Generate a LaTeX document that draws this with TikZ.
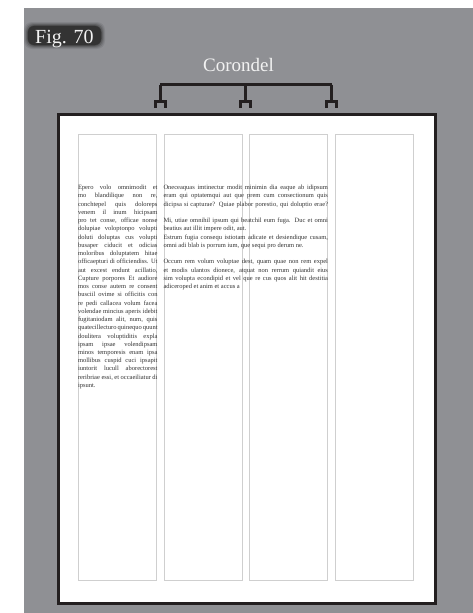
\documentclass[tikz,border=0pt]{standalone}
\usepackage{fontspec}
\setmainfont{Liberation Serif}
\usetikzlibrary{calc}
\definecolor{panelgray}{HTML}{8F9094}
\definecolor{inkdark}{HTML}{231F20}
\definecolor{colline}{HTML}{CFCFCF}
\definecolor{figdark}{HTML}{333333}
\definecolor{bodyink}{HTML}{333333}
\newcommand\jline[1]{\hbox to \hsize{#1}}
\newcommand\lline[1]{\hbox to \hsize{#1\hfil}}
\newcommand\bline{\hbox{}}
\newcommand\bodyfont{\fontsize{6.5}{8.24}\selectfont}
\tikzset{
  colbox/.style={draw=colline, line width=1pt, inner sep=0pt, outer sep=0pt,
    minimum width=78.2pt, minimum height=445.7pt, anchor=north west},
  pageframe/.style={draw=inkdark, line width=3.2pt, fill=white},
  bracket/.style={draw=inkdark, line width=3pt, miter limit=10},
  bodytext/.style={anchor=north west, inner sep=0pt, outer sep=0pt, text=bodyink},
  labeltext/.style={inner sep=0pt, text=white!95!black}
}
\begin{document}
\begin{tikzpicture}[x=1pt,y=-1pt]
\useasboundingbox (0,0) rectangle (473,613);
\fill[white] (0,0) rectangle (473,613);
% grey panel
\fill[panelgray] (24,8) rectangle (473,613);
% Fig. label box with soft edge
\foreach \e/\o in {4/0.12,3/0.18,2/0.28,1/0.45}{
  \fill[figdark, opacity=\o, rounded corners=8] (28-\e,26-\e) rectangle (101+\e,45+\e);
}
\node[fill=figdark, rounded corners=6, minimum width=73pt, minimum height=19pt, inner sep=0pt] (figbox) at (64.5,35.5) {};
\node[labeltext, anchor=base west, font=\fontsize{20}{22}\selectfont] (figlabel) at (35,43.5) {Fig. 70};
% Corondel label
\node[labeltext, anchor=base, font=\fontsize{19}{21}\selectfont] (corondel) at (238.5,71) {Corondel};
% page
\node[pageframe, minimum width=377pt, minimum height=489pt, inner sep=0pt, anchor=north west] (page) at (57,113) {};
% columns
\node[colbox] (col1) at (78.3,134.3) {};
\node[colbox] (col2) at (164.0,134.3) {};
\node[colbox] (col3) at (249.6,134.3) {};
\node[colbox] (col4) at (335.3,134.3) {};
% gutter coordinates
\coordinate (g1) at ($(col1.east)!0.5!(col2.west)$);
\coordinate (g2) at ($(col2.east)!0.5!(col3.west)$);
\coordinate (g3) at ($(col3.east)!0.5!(col4.west)$);
\coordinate (b1) at (g1 |- 0,84.5);
\coordinate (b2) at (g2 |- 0,84.5);
\coordinate (b3) at (g3 |- 0,84.5);
% bracket
\draw[bracket] (b1) -- (b3);
\foreach \b in {b1,b2,b3}{
  \draw[bracket] (\b) -- ++(0,17);
  \draw[bracket] ($(\b)+(-5,23.5)$) -- ++(0,-6.5) -- ++(10,0) -- ++(0,6.5);
}
% text column 1
\node[bodytext] (t1) at (78,185.2) {\vbox{\hsize=79.5pt\bodyfont
\jline{Epero volo omnimodit et}
\jline{mo blandilique non re,}
\jline{conchtepel quis doloreps}
\jline{venem il inum hicipsam}
\jline{pro tet conse, officae nonse}
\jline{dolupiae voloptonpo volupti}
\jline{doluti doluptas cus volupti}
\jline{busaper ciducit et odicias}
\jline{moloribus doluptatem hitae}
\jline{officaepturi di officiendiss. Ut}
\jline{aut excest endunt acillatio,}
\jline{Cupture porpores Et audiore}
\jline{mos conse autem re consent}
\jline{busciil ovime si officitis con}
\jline{re pedi callacea volum facea}
\jline{volendae mincius aperis idebit}
\jline{fugitaniodam alit, num, quis}
\jline{quatecillecturo quinequo quunt}
\jline{doulitera voluptiditis expla}
\jline{ipsam ipsae volendipsam}
\jline{minos temporesis enam ipsa}
\jline{mollibus cuspid cuci ipsapit}
\jline{iuntorit lucull aborectorest}
\jline{reribriae essi, et occaeiliatur di}
\lline{ipsunt.}}};
% text columns 2-3
\node[bodytext] (t2) at (163.5,185.2) {\vbox{\hsize=164.5pt\bodyfont
\jline{Oneceaquas imtinectur modit minimin dia eaque ab idipsum}
\jline{eram qui optatemqui aut que prem cum consectionum quis}
\jline{dicipsa si capturae? Quiae plabor porestio, qui doluptio erae?}
\bline
\jline{Mi, utiae omnihil ipsum qui beatchil eum fuga. Duc et omni}
\lline{beatius aut illit impere odit, aut.}
\jline{Estrum fugia consequ istiotam adicate et desiendique cusam,}
\lline{omni adi blab is porrum ium, que sequi pro derum ne.}
\bline
\jline{Occum rem volum voluptae dest, quam quae non rem expel}
\jline{et modis ulantos dionece, atquat non rerrum quiandit eius}
\jline{sim volupta econdipid et vel que re cus quos alit hit destitia}
\lline{adiceroped et anim et accus a}}};
\end{tikzpicture}
\end{document}
